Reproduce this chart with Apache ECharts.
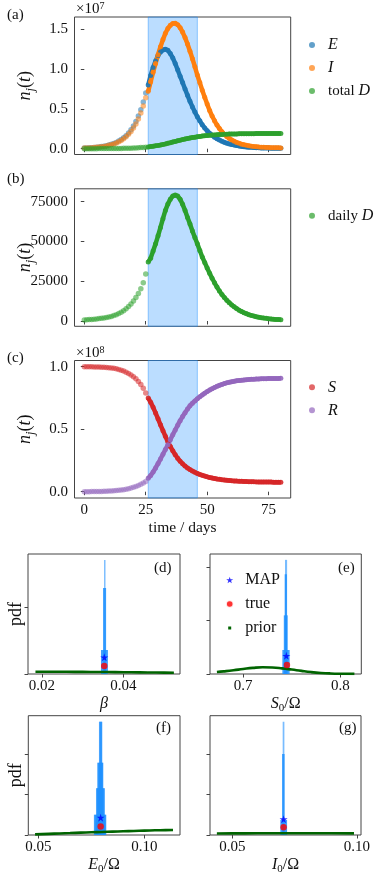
<!DOCTYPE html>
<html><head><meta charset="utf-8">
<script src="https://cdn.jsdelivr.net/npm/echarts@6/dist/echarts.min.js"></script>
<style>html,body{margin:0;padding:0;background:#fff}#c{width:375px;height:881px}</style>
</head><body><div id="c"></div>
<script>
// ---------- time axis ----------
const daysObs = [0,1,2,3,4,5,6,7,8,9,10,11,12,13,14,15,16,17,18,19,20,21,22,23,24,25];
const daysFit = [26,27,28,29,30,31,32,33,34,35,36,37,38,39,40,41,42,43,44,45,46,47,48,49,50,51,52,53,54,55,56,57,58,59,60,61,62,63,64,65,66,67,68,69,70,71,72,73,74,75,76,77,78,79,80];
const fitWindow = [26, 46];
const timeTicks = [0, 25, 50, 75];

// ---------- panel (a): units of 1e7 ----------
const E_obs = [0.008,0.009,0.011,0.013,0.016,0.019,0.022,0.027,0.032,0.038,0.046,0.055,0.066,0.079,0.095,0.114,0.137,0.164,0.197,0.237,0.285,0.34,0.41,0.49,0.585,0.70];
const E_fit = [0.80,0.92,1.02,1.10,1.17,1.215,1.24,1.25,1.235,1.195,1.14,1.07,0.99,0.91,0.83,0.75,0.67,0.595,0.525,0.46,0.40,0.35,0.30,0.26,0.225,0.195,0.168,0.145,0.125,0.108,0.093,0.08,0.069,0.06,0.052,0.045,0.039,0.034,0.029,0.025,0.022,0.019,0.0165,0.0145,0.0128,0.0113,0.01,0.009,0.008,0.0072,0.0065,0.0058,0.0052,0.0047,0.0043];
const I_obs = [0.008,0.009,0.01,0.012,0.014,0.017,0.02,0.024,0.029,0.035,0.042,0.05,0.06,0.072,0.087,0.104,0.125,0.15,0.18,0.216,0.26,0.311,0.373,0.447,0.535,0.64];
const I_fit = [0.72,0.84,0.96,1.07,1.18,1.28,1.37,1.45,1.51,1.55,1.572,1.575,1.558,1.52,1.465,1.395,1.315,1.225,1.13,1.03,0.925,0.83,0.735,0.645,0.56,0.48,0.41,0.35,0.297,0.252,0.213,0.18,0.152,0.129,0.109,0.093,0.079,0.067,0.057,0.049,0.042,0.036,0.031,0.027,0.024,0.021,0.019,0.017,0.015,0.014,0.013,0.012,0.011,0.011,0.01];
const totD_obs = [0.0001,0.0002,0.0003,0.0004,0.0005,0.0006,0.0008,0.0009,0.0011,0.0013,0.0016,0.0019,0.0022,0.0026,0.0031,0.0036,0.0043,0.005,0.006,0.007,0.0083,0.0097,0.0115,0.0135,0.016,0.0188];
const totD_fit = [0.0225,0.0265,0.031,0.0358,0.0412,0.047,0.0535,0.0604,0.0678,0.0755,0.0834,0.0913,0.0992,0.1069,0.1142,0.1212,0.1277,0.1338,0.1395,0.1448,0.1497,0.1541,0.1581,0.1618,0.1652,0.1683,0.171,0.1734,0.1755,0.1774,0.1791,0.1806,0.1819,0.183,0.184,0.1849,0.1857,0.1864,0.187,0.1875,0.1879,0.1883,0.1887,0.189,0.1893,0.1895,0.1897,0.1899,0.1901,0.1902,0.1903,0.1905,0.1906,0.1907,0.1908];
const ticksA = [0, 0.5, 1.0, 1.5];

// ---------- panel (b) ----------
const dailyD_obs = [700,800,900,1000,1150,1300,1500,1700,1950,2200,2500,2900,3400,4000,4700,5500,6500,7700,9100,10700,12500,14700,17200,20200,24000,29500];
const dailyD_fit = [37000,39500,44000,48500,53500,58800,64300,69500,73500,76500,78500,79100,78500,76500,73300,69500,65000,61000,56500,52500,48500,44300,40200,36800,33300,30000,26900,24000,21300,18900,16700,14700,13000,11500,10100,8900,7800,6800,6000,5200,4600,4000,3500,3100,2700,2400,2100,1850,1650,1450,1300,1150,1000,900,800];
const ticksB = [0, 25000, 50000, 75000];

// ---------- panel (c): units of 1e8 ----------
const S_obs = [1.0,0.9997,0.9994,0.999,0.9985,0.998,0.9973,0.9965,0.9955,0.994,0.992,0.99,0.987,0.983,0.978,0.972,0.965,0.956,0.946,0.934,0.92,0.903,0.882,0.857,0.827,0.79];
const S_fit = [0.75,0.715,0.675,0.63,0.583,0.535,0.488,0.443,0.40,0.362,0.327,0.296,0.268,0.244,0.223,0.205,0.19,0.177,0.165,0.155,0.146,0.138,0.131,0.125,0.119,0.114,0.11,0.106,0.102,0.099,0.096,0.094,0.092,0.09,0.088,0.0865,0.085,0.084,0.083,0.082,0.081,0.0803,0.0797,0.0791,0.0786,0.0782,0.0778,0.0775,0.0772,0.0769,0.0767,0.0765,0.0763,0.0761,0.076];
const R_obs = [0,0.0002,0.0004,0.0007,0.001,0.0014,0.0019,0.0025,0.0032,0.004,0.005,0.0062,0.0076,0.0093,0.0113,0.0137,0.0166,0.02,0.024,0.029,0.035,0.042,0.05,0.059,0.069,0.081];
const R_fit = [0.107,0.13,0.158,0.19,0.225,0.262,0.30,0.338,0.376,0.415,0.455,0.494,0.532,0.568,0.601,0.632,0.661,0.688,0.708,0.726,0.743,0.759,0.774,0.788,0.801,0.813,0.824,0.834,0.843,0.851,0.858,0.865,0.871,0.876,0.88,0.884,0.887,0.89,0.892,0.894,0.896,0.898,0.899,0.9,0.901,0.902,0.903,0.904,0.904,0.905,0.905,0.906,0.906,0.906,0.907];
const ticksC = [0, 0.5, 1.0];

// ---------- posterior panels: histogram blocks [x0, x1, height] ----------
const beta_histLight = [[0.03525,0.03560,171]];
const beta_histDark  = [[0.0350,0.03575,129],[0.0345,0.0362,36]];
const beta_priorX = [0.0184,0.022,0.026,0.030,0.034,0.038,0.042,0.046,0.050,0.0524];
const beta_priorY = [3.4,3.4,3.3,3.2,3.0,2.8,2.6,2.3,2.0,1.8];
const beta_MAP = [0.0353, 25];
const beta_true = [0.0353, 12];
const beta_ticks = [0.02, 0.04];

const S0_histLight = [[0.7430,0.7452,214]];
const S0_histDark  = [[0.7427,0.7450,187],[0.7418,0.7458,110],[0.7403,0.7478,45]];
const S0_priorX = [0.673,0.68,0.69,0.70,0.71,0.72,0.73,0.74,0.75,0.76,0.77,0.78,0.79,0.80,0.8144];
const S0_priorY = [3.8,5.0,7.0,9.4,11.5,12.6,12.2,10.6,8.3,5.8,3.6,2.0,1.0,0.5,0.2];
const S0_MAP = [0.7444, 34];
const S0_true = [0.7450, 17];
const S0_ticks = [0.7, 0.8];

const E0_histLight = [[0.0786,0.0802,281],[0.0778,0.0807,179],[0.0772,0.0814,116],[0.0762,0.0821,50]];
const E0_histDark  = [[0.0788,0.0800,281],[0.0780,0.0805,179],[0.0774,0.0812,116],[0.0764,0.0819,50]];
const E0_priorX = [0.0485,0.055,0.06,0.065,0.07,0.075,0.08,0.085,0.09,0.095,0.10,0.105,0.11,0.1135];
const E0_priorY = [1.5,2.8,3.8,4.8,5.8,6.7,7.5,8.4,9.3,10.1,10.9,11.6,12.2,12.5];
const E0_MAP = [0.0794, 43];
const E0_true = [0.0794, 21];
const E0_ticks = [0.05, 0.10];

const I0_histLight = [[0.07024,0.07092,280]];
const I0_histDark  = [[0.0700,0.0710,200],[0.0693,0.0720,37]];
const I0_priorX = [0.0438,0.05,0.06,0.07,0.08,0.09,0.0989];
const I0_priorY = [3.8,4.0,4.2,4.3,4.3,4.2,4.0];
const I0_MAP = [0.0706, 39];
const I0_true = [0.0706, 19];
const I0_ticks = [0.05, 0.10];

// ---------- styling ----------
const F = 'Liberation Serif';
const FS = 15;
const AX = '#444';
const C = {E:'#1f77b4', I:'#ff7f0e', D:'#2ca02c', S:'#d62728', R:'#9467bd'};
const starPath = 'path://M50,0 L61.2,34.5 L97.6,34.5 L68.2,55.9 L79.4,90.5 L50,69.1 L20.6,90.5 L31.8,55.9 L2.4,34.5 L38.8,34.5 Z';

const zip = (xs, ys) => xs.map((x, i) => [x, ys[i]]);

const grids = [
  {left:74.5, top:17, width:216.2, height:137.5},
  {left:74.5, top:188.8, width:216.2, height:137.5},
  {left:74.5, top:360.5, width:216.2, height:137.5},
  {left:28, top:554, width:152, height:120},
  {left:210, top:554, width:151.3, height:120},
  {left:28.3, top:715.7, width:151.7, height:119.3},
  {left:210, top:715.7, width:151, height:119.3}
].map(g => Object.assign({show:true, borderColor:AX, borderWidth:1, backgroundColor:'transparent', containLabel:false, outerBoundsMode:'none'}, g));

const labelStyle = {fontFamily:F, fontSize:FS, color:'#111'};
const nameRich = {
  i:{fontFamily:F, fontSize:18, fontStyle:'italic', color:'#111', lineHeight:24, verticalAlign:'middle'},
  s:{fontFamily:F, fontSize:12.5, fontStyle:'italic', color:'#111', lineHeight:24, verticalAlign:'bottom'},
  r:{fontFamily:F, fontSize:18, color:'#111', lineHeight:24, verticalAlign:'middle'}
};
const xNameRich = {
  i:{fontFamily:F, fontSize:16, fontStyle:'italic', color:'#111', lineHeight:20, verticalAlign:'middle'},
  s:{fontFamily:F, fontSize:11, color:'#111', lineHeight:20, verticalAlign:'bottom'},
  u:{fontFamily:F, fontSize:16, color:'#111', lineHeight:20, verticalAlign:'middle'}
};

function xAxisTime(idx, showLabels) {
  return {
    gridIndex: idx, type:'value', min:-4, max:84,
    axisLine:{show:false}, splitLine:{show:false},
    axisTick:{show:true, inside:false, length:3.5, customValues:timeTicks, lineStyle:{color:AX}},
    axisLabel:{show:showLabels, customValues:timeTicks, margin:4.5, ...labelStyle},
    name: showLabels ? 'time / days' : '', nameLocation:'middle', nameGap:22, nameMoveOverlap:false,
    nameTextStyle:{fontFamily:F, fontSize:FS+0.5, color:'#111'}
  };
}
function yAxisTop(idx, min, max, ticks, fmt) {
  return {
    gridIndex: idx, type:'value', min, max,
    axisLine:{show:false}, splitLine:{show:false},
    axisTick:{show:true, inside:false, length:3.5, customValues:ticks, lineStyle:{color:AX}},
    axisLabel:{show:true, customValues:ticks, margin:6.5, formatter:fmt, ...labelStyle},
    name:'{i|n}{s|j}{r|(}{i|t}{r|)}', nameLocation:'middle', nameGap:37, nameRotate:90, nameMoveOverlap:false,
    nameTextStyle:{rich:nameRich}
  };
}
function xAxisPost(idx, min, max, ticks, digits, name) {
  return {
    gridIndex: idx, type:'value', min, max,
    axisLine:{show:false}, splitLine:{show:false},
    axisTick:{show:true, inside:false, length:3.5, customValues:ticks, lineStyle:{color:AX}},
    axisLabel:{show:true, customValues:ticks, margin:4.5, formatter:v => v.toFixed(digits), ...labelStyle},
    name, nameLocation:'middle', nameGap:20, nameMoveOverlap:false, nameTextStyle:{rich:xNameRich}
  };
}
function yAxisPost(idx, max, ticks, showName) {
  return {
    gridIndex: idx, type:'value', min:0, max,
    axisLine:{show:false}, splitLine:{show:false},
    axisTick:{show:true, inside:false, length:3.5, customValues:ticks, lineStyle:{color:AX}},
    axisLabel:{show:false},
    name: showName ? 'pdf' : '', nameLocation:'middle', nameGap:3, nameRotate:90, nameMoveOverlap:false,
    nameTextStyle:{fontFamily:F, fontSize:18, color:'#111'}
  };
}

const series = [];
function shade(idx) {
  series.push({type:'line', xAxisIndex:idx, yAxisIndex:idx, data:[], z:1, silent:true,
    markArea:{silent:true, itemStyle:{color:'rgba(30,144,255,0.3)', borderColor:'rgba(30,144,255,0.45)', borderWidth:1},
      data:[[{xAxis:fitWindow[0]},{xAxis:fitWindow[1]}]]}});
}
function traj(idx, name, color, obs, fit) {
  series.push({type:'scatter', name:name+'_obs', xAxisIndex:idx, yAxisIndex:idx, data:zip(daysObs, obs),
    symbolSize:5.5, itemStyle:{color, opacity:0.55}, z:2, silent:true});
  series.push({type:'line', name, xAxisIndex:idx, yAxisIndex:idx, data:zip(daysFit, fit),
    symbol:'circle', symbolSize:5, showSymbol:true, lineStyle:{width:4.5, color}, itemStyle:{color, opacity:0.9}, z:3, silent:true});
}
shade(0); traj(0,'E',C.E,E_obs,E_fit); traj(0,'I',C.I,I_obs,I_fit); traj(0,'total D',C.D,totD_obs,totD_fit);
shade(1); traj(1,'daily D',C.D,dailyD_obs,dailyD_fit);
shade(2); traj(2,'S',C.S,S_obs,S_fit); traj(2,'R',C.R,R_obs,R_fit);

function histSeries(idx, blocks, color, z) {
  series.push({type:'custom', xAxisIndex:idx, yAxisIndex:idx, data:blocks, z, silent:true, clip:true,
    encode:{x:[0,1], y:2},
    renderItem:(params, api) => {
      const p0 = api.coord([api.value(0), api.value(2)]);
      const p1 = api.coord([api.value(1), 0]);
      return {type:'rect', shape:{x:p0[0], y:p0[1], width:p1[0]-p0[0], height:p1[1]-p0[1]}, style:{fill:color}};
    }});
}
function post(idx, light, dark, px, py, map, tru) {
  histSeries(idx, light, 'rgba(30,144,255,0.6)', 2);
  histSeries(idx, dark, 'rgba(30,144,255,0.85)', 3);
  series.push({type:'line', name:'prior', xAxisIndex:idx, yAxisIndex:idx, data:zip(px, py), showSymbol:false,
    smooth:true, lineStyle:{color:'#006400', width:2.6}, itemStyle:{color:'#006400'}, z:4, silent:true});
  series.push({type:'scatter', name:'MAP', xAxisIndex:idx, yAxisIndex:idx, data:[map], symbol:starPath, symbolSize:8,
    itemStyle:{color:'#0000ff'}, z:6, silent:true});
  series.push({type:'scatter', name:'true', xAxisIndex:idx, yAxisIndex:idx, data:[tru], symbol:'circle', symbolSize:6.5,
    itemStyle:{color:'#ff0000'}, z:5, silent:true});
}
post(3, beta_histLight, beta_histDark, beta_priorX, beta_priorY, beta_MAP, beta_true);
post(4, S0_histLight, S0_histDark, S0_priorX, S0_priorY, S0_MAP, S0_true);
post(5, E0_histLight, E0_histDark, E0_priorX, E0_priorY, E0_MAP, E0_true);
post(6, I0_histLight, I0_histDark, I0_priorX, I0_priorY, I0_MAP, I0_true);

const legRich = {it:{fontFamily:F, fontSize:FS+1, fontStyle:'italic', color:'#111'}};
const legFmt = n => n.replace(/(^|\s)([A-Z])$/, '$1{it|$2}');
function legend(top, items) {
  return {orient:'vertical', left:304, top, itemWidth:6, itemHeight:6, itemGap:7, selectedMode:false,
    data:items.map(n => ({name:n, icon:'circle', itemStyle:{color:n==='E'?C.E:n==='I'?C.I:n==='S'?C.S:n==='R'?C.R:C.D, opacity:0.7}})),
    formatter:legFmt, textStyle:{fontFamily:F, fontSize:FS, color:'#111', lineHeight:16, padding:[0,0,0,8], rich:legRich}};
}

const option = {
  animation:false,
  backgroundColor:'#fff',
  grid: grids,
  xAxis: [
    xAxisTime(0,false), xAxisTime(1,false), xAxisTime(2,true),
    xAxisPost(3, 0.01657, 0.0539, beta_ticks, 2, '{i|β}'),
    xAxisPost(4, 0.6659, 0.8215, S0_ticks, 1, '{i|S}{s|0}{u|/Ω}'),
    xAxisPost(5, 0.0453, 0.1168, E0_ticks, 2, '{i|E}{s|0}{u|/Ω}'),
    xAxisPost(6, 0.04104, 0.1017, I0_ticks, 2, '{i|I}{s|0}{u|/Ω}')
  ],
  yAxis: [
    yAxisTop(0, -0.073, 1.654, ticksA, v => v.toFixed(1)),
    yAxisTop(1, -3330, 83060, ticksB, v => String(v)),
    yAxisTop(2, -0.0504, 1.0496, ticksC, v => v.toFixed(1)),
    yAxisPost(3, 180, [0,100], true),
    yAxisPost(4, 225, [0,100,200], false),
    yAxisPost(5, 296, [0,100,200], true),
    yAxisPost(6, 295, [0,100,200], false)
  ],
  legend: [
    legend(32, ['E','I','total D']),
    legend(202.7, ['daily D']),
    legend(374.3, ['S','R']),
    {orient:'vertical', left:219.2, top:567, itemWidth:7, itemHeight:7, itemGap:8, selectedMode:false,
      data:[{name:'MAP', icon:starPath, itemStyle:{color:'#0000ff'}},
            {name:'true', icon:'circle', itemStyle:{color:'#ff0000', borderColor:'#fff', borderWidth:1.5}},
            {name:'prior', icon:'rect', itemStyle:{color:'#006400', borderColor:'#fff', borderWidth:4}}],
      textStyle:{fontFamily:F, fontSize:FS+1, color:'#111', lineHeight:16, padding:[0,0,0,7]}}
  ],
  graphic: [
    {type:'text', left:7, top:8, style:{text:'(a)', font:`${FS}px "${F}"`, fill:'#111'}},
    {type:'text', left:7, top:172, style:{text:'(b)', font:`${FS}px "${F}"`, fill:'#111'}},
    {type:'text', left:7, top:351, style:{text:'(c)', font:`${FS}px "${F}"`, fill:'#111'}},
    {type:'text', left:154, top:561, style:{text:'(d)', font:`${FS}px "${F}"`, fill:'#111'}},
    {type:'text', left:338, top:561, style:{text:'(e)', font:`${FS}px "${F}"`, fill:'#111'}},
    {type:'text', left:156, top:721, style:{text:'(f)', font:`${FS}px "${F}"`, fill:'#111'}},
    {type:'text', left:339, top:721, style:{text:'(g)', font:`${FS}px "${F}"`, fill:'#111'}},
    {type:'text', left:76, top:1, style:{text:'{a|×10}{b|7}', rich:{a:{fontFamily:F, fontSize:FS, fill:'#111', verticalAlign:'bottom', lineHeight:16}, b:{fontFamily:F, fontSize:10, fill:'#111', verticalAlign:'top', lineHeight:16}}}},
    {type:'text', left:76, top:345, style:{text:'{a|×10}{b|8}', rich:{a:{fontFamily:F, fontSize:FS, fill:'#111', verticalAlign:'bottom', lineHeight:16}, b:{fontFamily:F, fontSize:10, fill:'#111', verticalAlign:'top', lineHeight:16}}}}
  ],
  series
};
const chart = echarts.init(document.getElementById('c'), null, {renderer:'canvas'});
chart.setOption(option);
</script>
</body></html>
